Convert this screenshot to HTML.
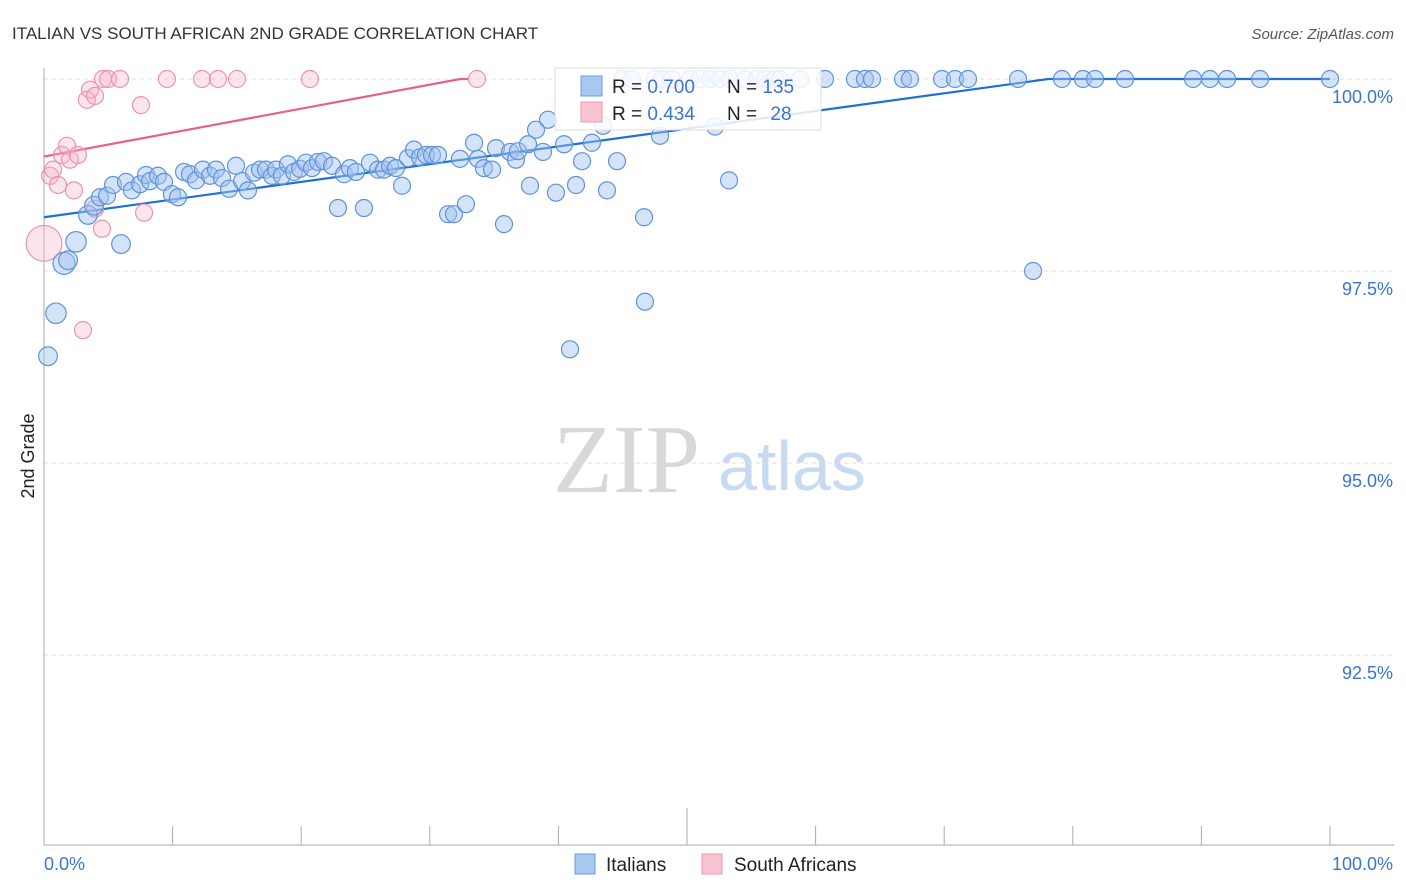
<!DOCTYPE html>
<html><head><meta charset="utf-8"><style>
body{margin:0;background:#fff;}
svg{display:block;font-family:"Liberation Sans",sans-serif;}
</style></head><body>
<svg id="chart" width="1406" height="892">
<text x="12" y="39" font-size="17" fill="#333">ITALIAN VS SOUTH AFRICAN 2ND GRADE CORRELATION CHART</text>
<text x="1394" y="39" font-size="15" fill="#555" font-style="italic" text-anchor="end">Source: ZipAtlas.com</text>
<g>
<text x="553" y="492" font-family="Liberation Serif,serif" font-size="98" fill="#d8d8d8">ZIP</text>
<text x="718" y="490" font-size="70" fill="#c8daf2">atlas</text>
</g>
<g id="grid"></g>
<g id="axes"></g>
<g id="trend"></g>
<g id="pts"></g>
<g>
<rect x="555" y="68" width="266" height="62" fill="#fff" fill-opacity="0.85" stroke="#ddd"/>
<rect x="581" y="76" width="21" height="20" fill="#a9c8f0" stroke="#6a9ae0"/>
<rect x="581" y="102" width="21" height="20" fill="#f8c4d2" stroke="#e898b0"/>
<text x="612" y="93" font-size="19" fill="#222">R = <tspan fill="#3a74d4">0.700</tspan></text>
<text x="727" y="93" font-size="19" fill="#222">N = <tspan fill="#3a74d4">135</tspan></text>
<text x="612" y="120" font-size="19" fill="#222">R = <tspan fill="#3a74d4">0.434</tspan></text>
<text x="727" y="120" font-size="19" fill="#222">N = <tspan fill="#3a74d4" dx="8">28</tspan></text>
</g>
<g>
<rect x="575" y="854" width="20" height="20" fill="#a9c8f0" stroke="#6a9ae0"/>
<text x="606" y="871" font-size="19" fill="#222">Italians</text>
<rect x="702" y="854" width="20" height="20" fill="#f8c4d2" stroke="#e898b0"/>
<text x="734" y="871" font-size="19" fill="#222">South Africans</text>
</g>
<text transform="translate(34,456) rotate(-90)" font-size="18" fill="#222" text-anchor="middle">2nd Grade</text>
</svg>
<script>
const blueX=[0.31,0.93,1.56,1.87,2.49,3.42,3.89,4.35,4.90,5.37,5.99,6.38,6.84,7.47,7.93,8.24,8.86,9.33,9.95,10.42,10.89,11.35,11.82,12.36,12.91,13.37,13.84,14.39,14.93,15.40,15.86,16.33,16.80,17.26,17.73,18.04,18.51,18.97,19.44,19.91,20.37,20.84,21.31,21.77,22.40,22.86,23.33,23.79,24.26,24.88,25.35,25.97,26.44,26.91,27.37,27.84,28.30,28.77,29.24,29.70,30.17,30.64,31.42,31.88,32.35,32.81,33.44,33.75,34.21,34.84,35.15,35.77,36.24,36.70,36.86,37.64,37.79,38.26,38.80,39.19,39.81,40.44,40.90,41.37,41.84,42.61,43.47,43.78,44.56,46.66,46.73,47.90,52.18,53.27,76.91,
44.95,45.72,47.51,48.06,48.83,50.23,51.01,51.79,52.57,53.34,54.51,55.44,56.07,56.84,57.23,58.79,60.73,63.06,63.84,64.39,66.80,67.34,69.83,70.84,71.85,75.74,79.16,80.79,81.73,84.06,89.35,90.67,91.99,94.56,100];
const blueY=[96.39,96.95,97.60,97.64,97.88,98.23,98.35,98.46,98.48,98.62,97.85,98.66,98.55,98.63,98.75,98.67,98.74,98.66,98.50,98.46,98.79,98.76,98.68,98.82,98.74,98.82,98.71,98.57,98.87,98.67,98.55,98.78,98.82,98.82,98.74,98.82,98.74,98.89,98.79,98.83,98.91,98.84,98.92,98.93,98.87,98.32,98.76,98.84,98.79,98.32,98.91,98.82,98.82,98.87,98.84,98.61,98.97,99.08,98.98,99.01,99.01,99.01,98.24,98.24,98.96,98.37,99.17,98.96,98.84,98.82,99.10,98.11,99.05,98.95,99.06,99.15,98.61,99.34,99.05,99.47,98.52,99.15,96.48,98.62,98.93,99.17,99.39,98.55,98.93,98.20,97.10,99.26,99.38,98.68,97.50,
100,100,100,100,100,100,100,100,100,100,100,100,100,100,100,100,100,100,100,100,100,100,100,100,100,100,100,100,100,100,100,100,100,100,100];
const blueSize=[1.1,1.2,1.3,1.1,1.2,1.1,1.1,1.0,1.0,1.0,1.1];
const pinkX=[0,0.47,0.70,1.09,1.40,1.79,2.02,2.33,2.64,3.03,3.34,3.58,3.97,3.97,4.51,4.59,4.98,5.91,7.54,7.78,9.56,12.29,13.53,15.01,20.68,33.67];
const pinkY=[97.86,98.74,98.82,98.62,99.01,99.13,98.95,98.55,99.01,96.73,99.73,99.86,99.78,98.31,98.05,100,100,100,99.66,98.26,100,100,100,100,100,100];
const pinkSize=[2.1];
const blueTrend=[98.20,0.02305];
const pinkTrend=[98.99,0.0312];
const yTicks=[100,97.5,95,92.5];
const yTickLabels=["100.0%","97.5%","95.0%","92.5%"];
const xEdgeLabels=["0.0%","100.0%"];
const NS="http://www.w3.org/2000/svg";
const X=v=>44+v*12.86, Y=v=>79+(100-v)*76.8;
function mk(p,t,a){const e=document.createElementNS(NS,t);for(const k in a)e.setAttribute(k,a[k]);p.appendChild(e);return e;}
const grid=document.getElementById('grid'),axes=document.getElementById('axes');
yTicks.forEach((v,i)=>{
 const l=mk(grid,'line',{x1:44,x2:1394,y1:Y(v),y2:Y(v),stroke:'#ddd','stroke-dasharray':'4,4'});
 
 
 const t=mk(axes,'text',{x:1393,y:Y(v)+24,'text-anchor':'end','font-size':18,fill:'#3a74d4'});
 t.textContent=yTickLabels[i];
 
 
});
mk(axes,'line',{x1:44,x2:44,y1:68,y2:845,stroke:'#aaa'});
mk(axes,'line',{x1:44,x2:1394,y1:845,y2:845,stroke:'#aaa'});
for(let i=1;i<=10;i++){const tk=mk(axes,'line',{x1:X(i*10),x2:X(i*10),y1:i==5?808:826,y2:845,stroke:'#aaa'});
 
 }
const xl0=mk(axes,'text',{x:44,y:870,'font-size':18,fill:'#3a74d4'});xl0.textContent=xEdgeLabels[0];


const xl1=mk(axes,'text',{x:1393,y:870,'font-size':18,fill:'#3a74d4','text-anchor':'end'});xl1.textContent=xEdgeLabels[1];


const trend=document.getElementById('trend');
function tl(tr,col,xmaxFlat,name){const xe=Math.min(100,(100-tr[0])/tr[1]);
 const p=mk(trend,'polyline',{points:`${X(0)},${Y(tr[0])} ${X(xe)},${Y(tr[0]+tr[1]*xe)} ${X(xmaxFlat)},${Y(tr[0]+tr[1]*xe)}`,fill:'none',stroke:col,'stroke-width':2.2});
 
 }
tl(blueTrend,'#1f6fd6',100,'italians-trend-line');
tl(pinkTrend,'#e8608a',33,'south-africans-trend-line');
const pts=document.getElementById('pts');
pinkX.forEach((x,i)=>{const c=mk(pts,'circle',{cx:X(x),cy:Y(pinkY[i]),r:8.5*(pinkSize[i]||1),fill:'rgba(248,180,200,0.35)',stroke:'#ec93ad','stroke-width':1.2});
 
 });
blueX.forEach((x,i)=>{const c=mk(pts,'circle',{cx:X(x),cy:Y(blueY[i]),r:8.5*(blueSize[i]||1),fill:'rgba(160,196,240,0.45)',stroke:'#5f92dc','stroke-width':1.2});
 
 });
</script>
</body></html>
